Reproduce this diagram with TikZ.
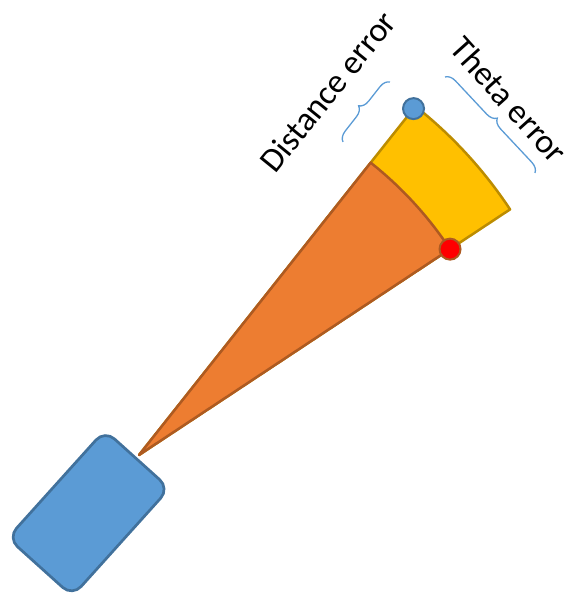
\documentclass[tikz,border=0pt]{standalone}
\usepackage{fontspec}
\setmainfont{Carlito}
\usetikzlibrary{decorations.pathreplacing}
\definecolor{orangefill}{HTML}{ED7D31}
\definecolor{orangeline}{HTML}{AE5A21}
\definecolor{yellowfill}{HTML}{FFC000}
\definecolor{yellowline}{HTML}{BC8C00}
\definecolor{bluefill}{HTML}{5B9BD5}
\definecolor{blueline}{HTML}{41719C}
\begin{document}
\begin{tikzpicture}[x=1pt,y=1pt,
  yellowsector/.style={fill=yellowfill,draw=yellowline,line width=2.5pt,line join=round},
  orangesector/.style={fill=orangefill,draw=orangeline,line width=2.5pt,line join=round},
  robot/.style={draw=blueline,fill=bluefill,line width=2.7pt,rounded corners=13pt,
    minimum width=145pt,minimum height=87pt,inner sep=0pt},
  dot/.style={circle,line width=2pt,minimum size=21pt,inner sep=0pt},
  bracestyle/.style={draw=bluefill,line width=1.3pt,
    decorate,decoration={brace,amplitude=10pt}},
  label/.style={font=\fontsize{34}{40}\selectfont,inner sep=0pt}]
\useasboundingbox (0,0) rectangle (568,594);
\coordinate (A) at (139,139);
\draw[yellowsector] (A) -- ++(33.5:445pt) arc[start angle=33.5,end angle=51.6,radius=445pt] -- cycle;
\draw[orangesector] (A) -- ++(33.5:373pt) arc[start angle=33.5,end angle=51.6,radius=373pt] -- cycle;
\node[robot,rotate=48] (body) at (88.6,80.8) {};
\node[dot,fill=bluefill,draw=blueline] (bluedot) at ([shift={(51.6:442pt)}]A) {};
\node[dot,fill=red,draw=orangeline] (reddot) at ([shift={(33.5:373pt)}]A) {};
\coordinate (d1) at (343,452);
\coordinate (d2) at (390,512);
\coordinate (t1) at (445,517);
\coordinate (t2) at (535,421);
\draw[bracestyle] (d1) -- (d2);
\draw[bracestyle] (t1) -- (t2);
\node[label,anchor=base west,rotate=51] (dist) at (275,419) {Distance error};
\node[label,rotate=-48] (theta) at (509,494) {Theta error};
\end{tikzpicture}
\end{document}
